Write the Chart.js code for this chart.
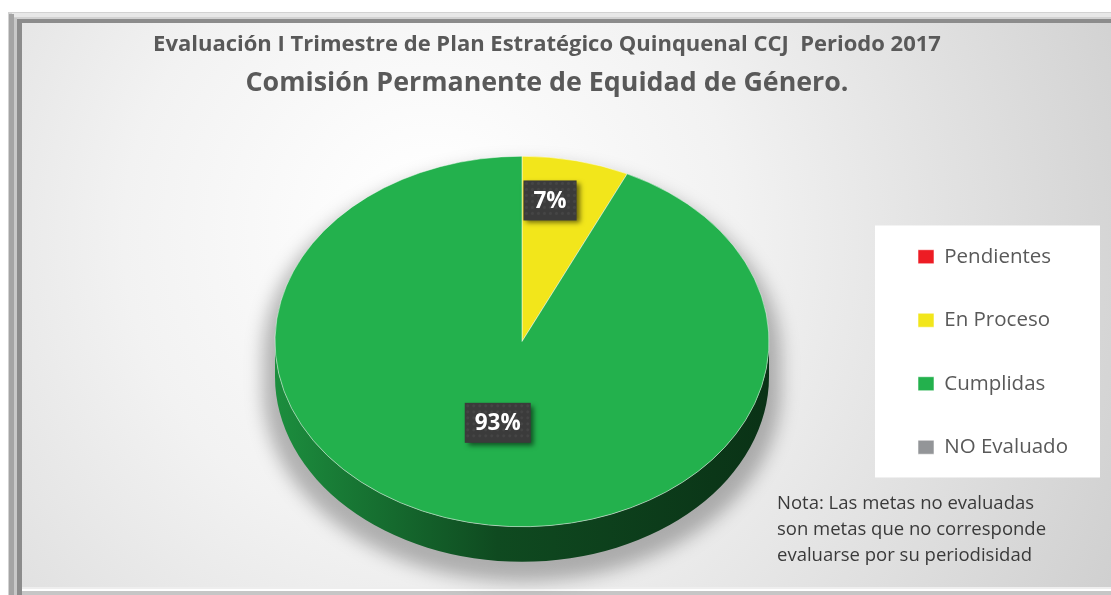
<!DOCTYPE html>
<html>
<head>
<meta charset="utf-8">
<script src="https://cdn.jsdelivr.net/npm/chart.js@4.4.1/dist/chart.umd.min.js"></script>
<style>
  html, body { margin: 0; padding: 0; background: #ffffff; }
  #wrap { width: 1111px; height: 595px; position: relative; }
</style>
</head>
<body>
<div id="wrap"><canvas id="c" width="1111" height="595"></canvas></div>
<script>
// ---- data ----
const categories = ['Pendientes', 'En Proceso', 'Cumplidas', 'NO Evaluado'];
const percentages = [0, 7, 93, 0];
const sliceColors = ['#ED1C24', '#F2E61B', '#23B14D', '#939598'];
const titleLine1 = 'Evaluación I Trimestre de Plan Estratégico Quinquenal CCJ  Periodo 2017';
const titleLine2 = 'Comisión Permanente de Equidad de Género.';
const noteLines = [
  'Nota: Las metas no evaluadas',
  'son metas que no corresponde',
  'evaluarse por su periodisidad'
];

// ---- style constants ----
const TILT = 0.75;     // vertical squash of the pie (3D look)
const DEPTH = 35;      // thickness of the pie side
const FONT = '"Open Sans", sans-serif';
const LEGEND_FONT_SIZE = 20.5;
const LEGEND_PAD = 43;
const LEGEND_BOX_W = 16;

// layout: legend starts at x=875, pie centred at 522, titles centred at 547
const mctx = document.createElement('canvas').getContext('2d');
mctx.font = `${LEGEND_FONT_SIZE}px ${FONT}`;
let maxLabelW = 0;
categories.forEach(c => { maxLabelW = Math.max(maxLabelW, mctx.measureText(c).width); });
const legendW = LEGEND_PAD + LEGEND_BOX_W + LEGEND_FONT_SIZE / 2 + maxLabelW + 10;
const padRight = Math.max(0, 1111 - 875 - legendW);
const padLeft = Math.max(0, padRight - 17);
const spacerW = 169 - padLeft;

function shade(hex, f) {
  const n = parseInt(hex.slice(1), 16);
  const r = Math.round(((n >> 16) & 255) * f);
  const g = Math.round(((n >> 8) & 255) * f);
  const b = Math.round((n & 255) * f);
  return `rgb(${r},${g},${b})`;
}

// empty left layout box so the titles and the pie can have different centres
const spacerPlugin = {
  id: 'spacer',
  beforeInit(chart) {
    const box = {
      position: 'left', weight: 50, fullSize: false,
      options: { stackWeight: 1 },
      width: 0, height: 0, left: 0, top: 0, right: 0, bottom: 0,
      isHorizontal() { return false; },
      update(maxWidth, maxHeight) { this.width = spacerW; this.height = maxHeight; return {}; },
      draw() {}
    };
    Chart.layouts.addBox(chart, box);
  }
};

const framePlugin = {
  id: 'frame',
  beforeDraw(chart) {
    const ctx = chart.ctx, W = chart.width, H = chart.height;
    ctx.save();
    ctx.fillStyle = '#ffffff';
    ctx.fillRect(0, 0, W, H);
    ctx.fillStyle = '#d2d2d2';
    ctx.fillRect(8, 12, W - 8, H - 12);
    ctx.fillStyle = '#e8e8e8';
    ctx.fillRect(12, 13, W - 12, 4);
    ctx.fillStyle = '#a4a4a4';
    ctx.fillRect(9, 14, 5, H - 14);
    ctx.fillStyle = '#c8c8c8';
    ctx.fillRect(14, 18, 3, H - 18);
    ctx.fillStyle = '#8c8c8c';
    ctx.fillRect(17, 19, W - 17, 4);
    ctx.fillRect(17, 19, 5, H - 19);
    const g = ctx.createRadialGradient(430, 220, 30, 430, 260, 820);
    g.addColorStop(0, '#ffffff');
    g.addColorStop(0.35, '#f2f2f2');
    g.addColorStop(1, '#cbcbcb');
    ctx.fillStyle = g;
    ctx.fillRect(22, 23, W - 22, 564);
    ctx.fillStyle = '#eeeeee';
    ctx.fillRect(22, 587, W - 22, 2);
    ctx.fillStyle = '#ffffff';
    ctx.fillRect(22, 589, W - 22, 2);
    ctx.fillStyle = '#c6c6c6';
    ctx.fillRect(22, 591, W - 22, 4);

    const lg = chart.legend;
    if (lg && lg.legendHitBoxes && lg.legendHitBoxes.length) {
      const hb = lg.legendHitBoxes;
      const top = hb[0].top - 21;
      const last = hb[hb.length - 1];
      const bottom = last.top + last.height + 20;
      let right = 0;
      hb.forEach(h => { right = Math.max(right, h.left + h.width); });
      right += 32;
      ctx.fillStyle = '#ffffff';
      ctx.fillRect(lg.left, top, right - lg.left, bottom - top);
    }
    ctx.restore();
  }
};

const pie3dPlugin = {
  id: 'pie3d',
  beforeDatasetsDraw(chart) {
    const ctx = chart.ctx;
    const meta = chart.getDatasetMeta(0);
    if (!meta.data.length) return;
    const a0 = meta.data[0];
    const cx = a0.x, cy = a0.y, r = a0.outerRadius, ry = r * TILT;

    ctx.save();
    ctx.filter = 'blur(9px)';
    ctx.fillStyle = 'rgba(0,0,0,0.28)';
    ctx.beginPath();
    ctx.ellipse(cx, cy + 14, r + 12, ry + 6, 0, Math.PI, 2 * Math.PI, false);
    ctx.ellipse(cx, cy + DEPTH + 14, r + 12, ry + 6, 0, 0, Math.PI, false);
    ctx.closePath();
    ctx.fill();
    ctx.restore();

    meta.data.forEach((arc, i) => {
      const s = arc.startAngle, e = arc.endAngle;
      if (e - s <= 0) return;
      const ranges = [[0, Math.PI], [2 * Math.PI, 3 * Math.PI]];
      ranges.forEach(([lo, hi]) => {
        const from = Math.max(s, lo), to = Math.min(e, hi);
        if (to <= from) return;
        const base = sliceColors[i];
        const grad = ctx.createLinearGradient(cx - r, 0, cx + r, 0);
        grad.addColorStop(0, shade(base, 0.8));
        grad.addColorStop(0.45, shade(base, 0.42));
        grad.addColorStop(1, shade(base, 0.28));
        ctx.save();
        ctx.fillStyle = grad;
        ctx.beginPath();
        ctx.ellipse(cx, cy, r, ry, 0, from, to, false);
        ctx.ellipse(cx, cy + DEPTH, r, ry, 0, to, from, true);
        ctx.closePath();
        ctx.fill();
        ctx.restore();
      });
    });

    ctx.save();
    ctx.translate(cx, cy);
    ctx.scale(1, TILT);
    ctx.translate(-cx, -cy);
  },
  afterDatasetsDraw(chart) {
    const ctx = chart.ctx;
    ctx.restore();
    const meta = chart.getDatasetMeta(0);
    meta.data.forEach((arc, i) => {
      const v = percentages[i];
      if (!v) return;
      const mid = (arc.startAngle + arc.endAngle) / 2;
      const frac = (arc.endAngle - arc.startAngle) / (2 * Math.PI);
      const f = frac < 0.15 ? 0.78 : 0.45;
      let lx = arc.x + Math.cos(mid) * arc.outerRadius * f;
      const ly = arc.y + Math.sin(mid) * arc.outerRadius * f * TILT;
      const text = v + '%';
      ctx.save();
      ctx.font = `bold 22.5px ${FONT}`;
      const tw = ctx.measureText(text).width;
      const bw = tw + 20, bh = 40;
      if (frac < 0.15) lx = Math.max(arc.x + bw / 2, lx - 14);
      ctx.shadowColor = 'rgba(0,0,0,0.55)';
      ctx.shadowBlur = 5;
      ctx.shadowOffsetX = 3;
      ctx.shadowOffsetY = 3;
      ctx.fillStyle = '#3b3b3b';
      ctx.fillRect(lx - bw / 2, ly - bh / 2, bw, bh);
      ctx.shadowColor = 'transparent';
      ctx.fillStyle = 'rgba(255,255,255,0.05)';
      for (let yy = ly - bh / 2 + 3; yy < ly + bh / 2 - 1; yy += 6) {
        for (let xx = lx - bw / 2 + 3; xx < lx + bw / 2 - 1; xx += 6) {
          ctx.beginPath();
          ctx.arc(xx, yy, 1.6, 0, 2 * Math.PI);
          ctx.fill();
        }
      }
      ctx.fillStyle = '#ffffff';
      ctx.textAlign = 'center';
      ctx.textBaseline = 'middle';
      ctx.fillText(text, lx, ly + 1);
      ctx.restore();
    });
  }
};

const notePlugin = {
  id: 'note',
  afterDraw(chart) {
    const ctx = chart.ctx;
    ctx.save();
    ctx.font = `18.5px ${FONT}`;
    ctx.fillStyle = '#3a3a3a';
    ctx.textAlign = 'left';
    ctx.textBaseline = 'alphabetic';
    noteLines.forEach((line, i) => {
      ctx.fillText(line, 777, 509 + i * 26);
    });
    ctx.restore();
  }
};

new Chart(document.getElementById('c'), {
  type: 'pie',
  data: {
    labels: categories,
    datasets: [{
      data: percentages,
      backgroundColor: sliceColors,
      borderColor: 'rgba(255,255,255,0.55)',
      borderWidth: 1,
      radius: 247,
      clip: false
    }]
  },
  options: {
    responsive: false,
    animation: false,
    events: [],
    layout: { padding: { left: padLeft, right: padRight, top: 0, bottom: 19.6 } },
    plugins: {
      title: {
        display: true,
        text: titleLine1,
        color: '#595959',
        font: { family: FONT, size: 22, weight: 'bold' },
        padding: { top: 32, bottom: 0 }
      },
      subtitle: {
        display: true,
        text: titleLine2,
        color: '#595959',
        font: { family: FONT, size: 26.8, weight: 'bold' },
        padding: { top: 9, bottom: 8 }
      },
      legend: {
        display: true,
        position: 'right',
        fullSize: false,
        align: 'center',
        title: { display: true, text: '', font: { size: 1, lineHeight: 1 }, padding: { top: 0, bottom: 20 } },
        labels: {
          padding: LEGEND_PAD,
          boxWidth: LEGEND_BOX_W,
          boxHeight: 14,
          color: '#595959',
          font: { family: FONT, size: LEGEND_FONT_SIZE }
        }
      },
      tooltip: { enabled: false }
    }
  },
  plugins: [spacerPlugin, framePlugin, pie3dPlugin, notePlugin]
});
</script>
</body>
</html>
